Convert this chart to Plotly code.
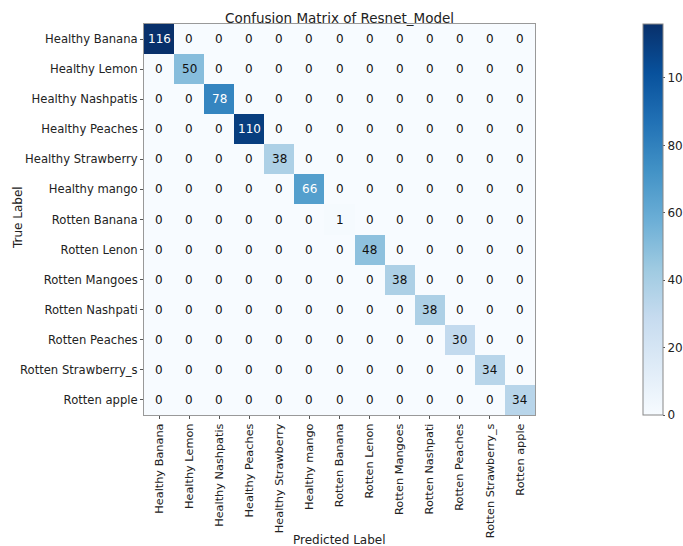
import plotly.graph_objects as go
import plotly.express as px

labels = ["Healthy Banana", "Healthy Lemon", "Healthy Nashpatis", "Healthy Peaches",
          "Healthy Strawberry", "Healthy mango", "Rotten Banana", "Rotten Lenon",
          "Rotten Mangoes", "Rotten Nashpati", "Rotten Peaches", "Rotten Strawberry_s",
          "Rotten apple"]
diag_counts = [116, 50, 78, 110, 38, 66, 1, 48, 38, 38, 30, 34, 34]

n = len(labels)
z = [[diag_counts[i] if i == j else 0 for j in range(n)] for i in range(n)]
zmax = max(diag_counts)

fig = go.Figure(go.Heatmap(
    z=z, x=labels, y=labels,
    colorscale=px.colors.sequential.Blues,
    zmin=0, zmax=zmax,
    colorbar=dict(
        x=1.2506, xanchor="left", xref="paper", xpad=10,
        y=0.5, yanchor="middle", len=1.0, lenmode="fraction", ypad=0,
        thickness=20, thicknessmode="pixels",
        tickvals=[0, 20, 40, 60, 80, 100],
        ticks="outside", ticklen=2, tickcolor="#555",
        outlinecolor="#888", outlinewidth=1,
        tickfont=dict(family="DejaVu Sans", size=12, color="#222"),
    ),
    hoverinfo="skip",
))

annotations = []
for i in range(n):
    for j in range(n):
        v = z[i][j]
        annotations.append(dict(
            x=labels[j], y=labels[i], text=str(v), showarrow=False,
            font=dict(family="DejaVu Sans", size=12,
                      color="white" if v > zmax / 2 else "#111"),
        ))
annotations.append(dict(text="Predicted Label", xref="paper", yref="paper",
                        x=0.5, y=-0.32, xanchor="center", yanchor="middle",
                        showarrow=False, font=dict(size=12, color="#222")))
annotations.append(dict(text="True Label", xref="paper", yref="paper",
                        x=-0.322, y=0.504, xanchor="center", yanchor="middle",
                        textangle=-90, showarrow=False, font=dict(size=12, color="#222")))

fig.update_layout(
    width=683, height=546,
    margin=dict(l=144, r=148, t=24, b=131, autoexpand=False),
    paper_bgcolor="white", plot_bgcolor="white",
    font=dict(family="DejaVu Sans", size=12, color="#222"),
    title=dict(text="Confusion Matrix of Resnet_Model", x=0.5, xref="paper",
               xanchor="center", y=1, yref="paper", yanchor="bottom", pad=dict(b=1),
               font=dict(family="DejaVu Sans", size=13.5, color="#222")),
    annotations=annotations,
)
fig.update_xaxes(
    automargin=False,
    tickangle=-90, ticks="outside", ticklen=3, tickcolor="#555",
    showline=True, linecolor="#999", mirror=True, showgrid=False,
    tickfont=dict(size=11.3),
)
fig.update_yaxes(
    automargin=False,
    autorange="reversed", ticks="outside", ticklen=3, tickcolor="#555",
    showline=True, linecolor="#999", mirror=True, showgrid=False,
    tickfont=dict(size=11.6),
)

fig.write_html("out.html")
